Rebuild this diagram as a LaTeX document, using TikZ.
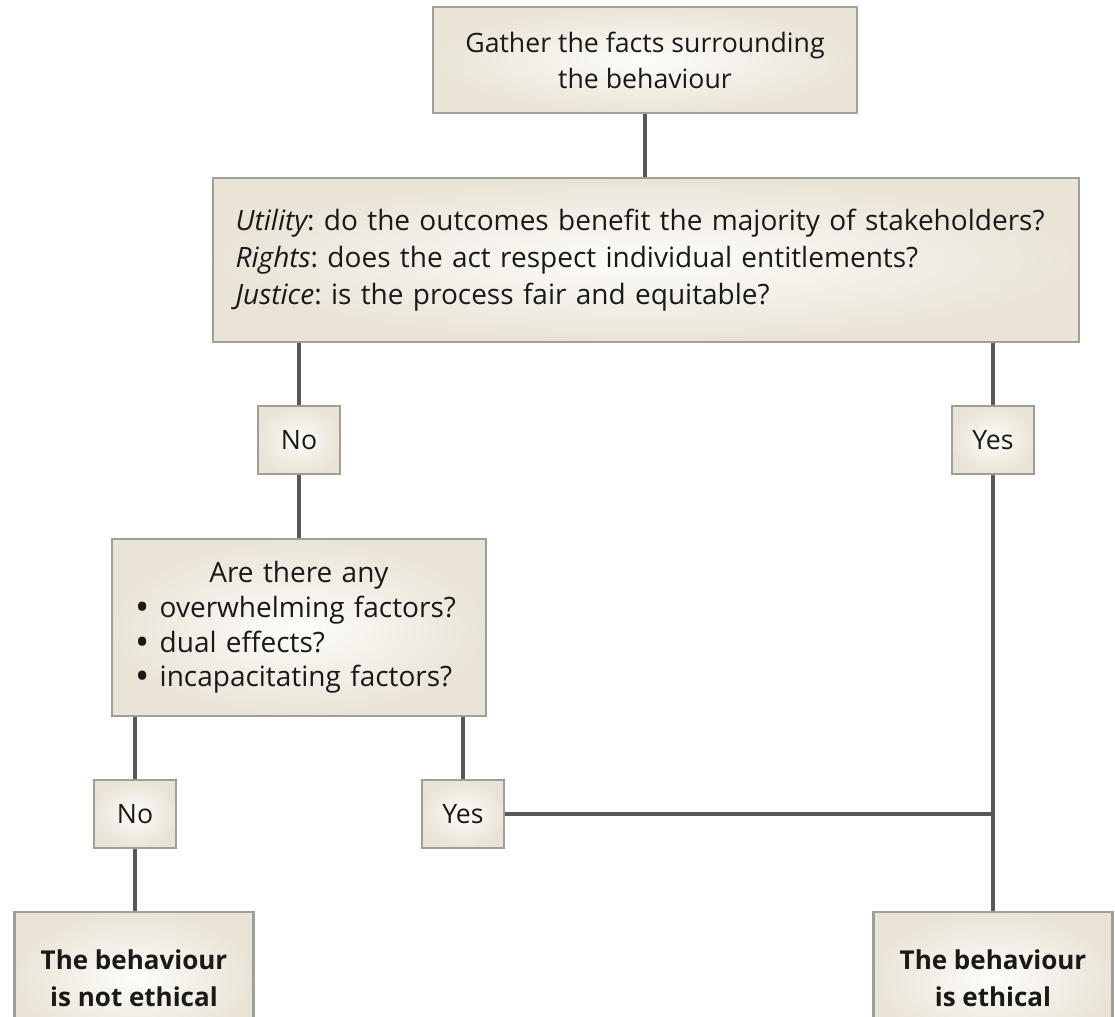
\documentclass[tikz,border=0pt]{standalone}
\usepackage{fontspec}
\setmainfont{Open Sans}
\frenchspacing

\definecolor{boxline}{RGB}{160,158,152}
\definecolor{boxin}{RGB}{253,252,249}
\definecolor{boxout}{RGB}{234,228,215}
\definecolor{wire}{RGB}{88,88,88}

\newcommand{\dotitem}{\makebox[18pt][l]{\raisebox{-0.11em}{\scalebox{1.35}{\textbullet}}}}

\tikzset{
	flowbox/.style={draw=boxline, line width=1.9pt, inner color=boxin, outer color=boxout, inner sep=0pt, font=\fontsize{20}{27}\selectfont, text=black!90},
	answerbox/.style={flowbox, minimum width=61.5pt, minimum height=51pt},
	endbox/.style={flowbox, minimum width=179.25pt, minimum height=99pt, align=center, font=\fontsize{19.5}{27.5}\selectfont\bfseries},
	wire/.style={draw=wire, line width=3pt}}

\begin{document}
\begin{tikzpicture}[x=0.75pt,y=0.75pt,yscale=-1,xscale=1]
	\useasboundingbox (0,0) rectangle (1115,1017);

	%Shape: Rectangle [id:facts]
	\draw (645,60) node [flowbox, minimum width=318pt, minimum height=79.5pt, align=center] (facts) {Gather the facts surrounding\\the behaviour};
	%Shape: Rectangle [id:tests]
	\draw (646,260) node [flowbox, minimum height=123pt, inner xsep=17pt, text width=615.5pt, align=left, font=\fontsize{21}{27.75}\selectfont] (tests) {{\itshape Utility}: do the outcomes benefit the majority of stakeholders?\\{\itshape Rights}: does the act respect individual entitlements?\\{\itshape Justice}: is the process fair and equitable?};
	%Shape: Rectangle [id:noA]
	\draw (299,440) node [answerbox] (noA) {No};
	%Shape: Rectangle [id:yesA]
	\draw (993,440) node [answerbox] (yesA) {Yes};
	%Shape: Rectangle [id:factors]
	\draw (299,627.5) node [flowbox, minimum height=132.75pt, inner xsep=17.75pt, text width=245pt, align=left, font=\fontsize{21}{26}\selectfont] (factors) {\makebox[\linewidth][c]{Are there any}\\\dotitem overwhelming factors?\\\dotitem dual effects?\\\dotitem incapacitating factors?};
	%Shape: Rectangle [id:noB]
	\draw (135,814) node [answerbox] (noB) {No};
	%Shape: Rectangle [id:yesB]
	\draw (463,814) node [answerbox] (yesB) {Yes};
	%Shape: Rectangle [id:unethical]
	\draw (134,978) node [endbox] (unethical) {The behaviour\\is not ethical};
	%Shape: Rectangle [id:ethical]
	\draw (993,978) node [endbox] (ethical) {The behaviour\\is ethical};

	% Connectors
	\draw [wire] (facts) -- (facts |- tests.north);
	\draw [wire] (noA.north) -- (noA.north |- tests.south);
	\draw [wire] (yesA.north) -- (yesA.north |- tests.south);
	\draw [wire] (noA) -- (factors);
	\draw [wire] (yesA) -- (ethical);
	\draw [wire] (noB.north) -- (noB.north |- factors.south);
	\draw [wire] (yesB.north) -- (yesB.north |- factors.south);
	\draw [wire] (noB) -- (noB |- unethical.north);
	\draw [wire] (yesB.east) -- (yesB.east -| yesA);

\end{tikzpicture}
\end{document}
